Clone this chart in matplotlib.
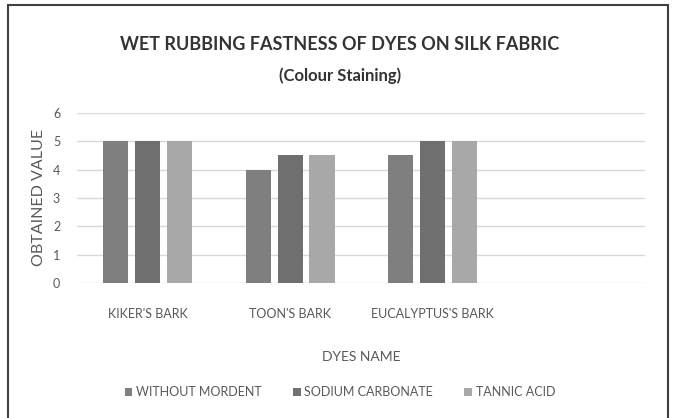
import numpy as np
import matplotlib.pyplot as plt
from matplotlib.patches import Rectangle

plt.rcParams['font.family'] = ['Lato', 'DejaVu Sans']

# chart data
dyes = ["KIKER'S BARK", "TOON'S BARK", "EUCALYPTUS'S BARK", ""]
without_mordent = [5, 4, 4.5, np.nan]
sodium_carbonate = [5, 4.5, 5, np.nan]
tannic_acid = [5, 4.5, 5, np.nan]
series_names = ["WITHOUT MORDENT", "SODIUM CARBONATE", "TANNIC ACID"]
colors = ["#7f7f7f", "#6f6f6f", "#a8a8a8"]

fig = plt.figure(figsize=(6.8, 4.18), dpi=100)
ax = fig.add_axes([0.113, 0.323, 0.836, 0.407])

x = np.arange(len(dyes))
width = 0.176
step = 0.225
for i, (vals, name) in enumerate(zip([without_mordent, sodium_carbonate, tannic_acid], series_names)):
    ax.bar(x + (i - 1) * step, vals, width, color=colors[i], label=name, zorder=3)

ax.set_xlim(-0.5, len(dyes) - 0.5)
ax.set_ylim(0, 6)
ax.set_yticks(range(0, 7))
ax.yaxis.grid(True, color="#d9d9d9", linewidth=1)
ax.set_axisbelow(True)
for s in ax.spines.values():
    s.set_visible(False)
ax.tick_params(length=0, labelsize=9, colors="#595959")
ax.tick_params(axis='y', pad=12)
ax.tick_params(axis='x', pad=18)
ax.set_xticks(x)
ax.set_xticklabels(dyes, fontsize=9)

ax.set_ylabel("OBTAINED VALUE", fontsize=11.5, color="#595959", labelpad=5)
ax.set_xlabel("DYES NAME", fontsize=10, color="#595959", labelpad=22)

fig.text(0.5, 1 - 45 / 418, "WET RUBBING FASTNESS OF DYES ON SILK FABRIC",
         ha="center", va="center", fontsize=13, fontweight="bold", color="#333333")
fig.text(0.5, 1 - 76 / 418, "(Colour Staining)",
         ha="center", va="center", fontsize=12, fontweight="bold", color="#333333")

handles, labels = ax.get_legend_handles_labels()
fig.legend(handles, labels, loc="center", bbox_to_anchor=(0.5, 1 - 392 / 418),
           ncol=3, frameon=False, fontsize=9, handlelength=0.6, handleheight=0.6,
           handletextpad=0.3, columnspacing=2.5, labelcolor="#595959")

fig.patches.append(Rectangle((8 / 680, -0.02), 660 / 680, 1 - 5 / 418 + 0.02,
                             transform=fig.transFigure, fill=False,
                             edgecolor="#404040", linewidth=1.5))

fig.savefig("out.png", dpi=100)
